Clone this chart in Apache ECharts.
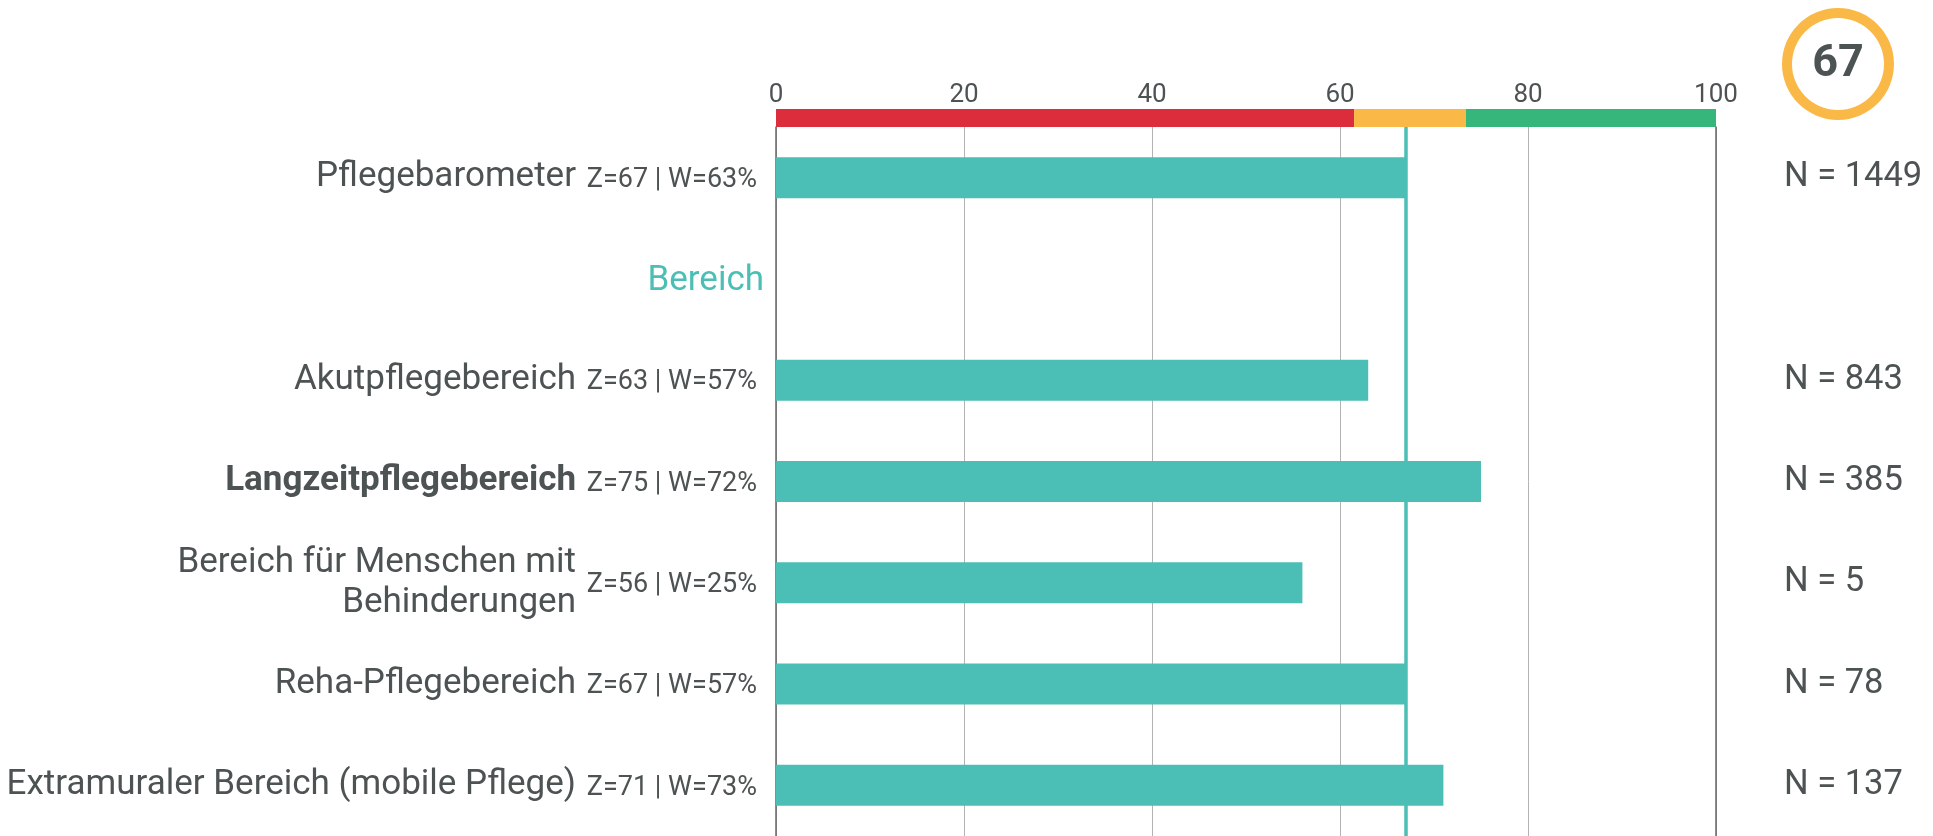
<!DOCTYPE html>
<html>
<head>
<meta charset="utf-8">
<script src="https://cdn.jsdelivr.net/npm/echarts@6/dist/echarts.min.js"></script>
<style>html,body{margin:0;padding:0;background:#fff}#c{width:1933px;height:836px}</style>
</head>
<body>
<div id="c"></div>
<script>
const categories = ['Pflegebarometer', 'Bereich', 'Akutpflegebereich', 'Langzeitpflegebereich', 'Bereich für Menschen mit\nBehinderungen', 'Reha-Pflegebereich', 'Extramuraler Bereich (mobile Pflege)'];
const values = [67, null, 63, 75, 56, 67, 71];
const zLabels = ['Z=67 | W=63%', '', 'Z=63 | W=57%', 'Z=75 | W=72%', 'Z=56 | W=25%', 'Z=67 | W=57%', 'Z=71 | W=73%'];
const nLabels = ['N = 1449', '', 'N = 843', 'N = 385', 'N = 5', 'N = 78', 'N = 137'];
const sectionIndex = 1;
const boldIndex = 3;
const referenceValue = 67;
const overallScore = 67;
const bandNames = ['rot', 'gelb', 'grün'];
const bandSizes = [61.5, 11.9, 26.6];
const xTicks = [0, 20, 40, 60, 80, 100];

const TEXT = '#4d5253', TEAL = '#4bbfb5';
const bandColors = ['#dc2d3c', '#fab946', '#36b67b'];
const FONT = 'Roboto';

const chart = echarts.init(document.getElementById('c'), null, {renderer: 'canvas'});
const GL = 776, GR = 217;

const option = {
  animation: false,
  textStyle: {fontFamily: FONT},
  grid: [
    {left: GL, right: GR, top: 127, height: 714},
    {left: GL, right: GR, top: 109, height: 18}
  ],
  xAxis: [
    {gridIndex: 0, type: 'value', min: 0, max: 100, interval: 20,
     axisLine: {show: false}, axisTick: {show: false}, axisLabel: {show: false},
     splitLine: {show: true, lineStyle: {color: '#b3b3b3', width: 1}}},
    {gridIndex: 1, type: 'value', min: 0, max: 100, interval: 20, position: 'top',
     axisLine: {show: false}, axisTick: {show: false}, splitLine: {show: false},
     axisLabel: {show: true, margin: 1, fontSize: 26, color: TEXT, fontFamily: FONT,
       formatter: v => xTicks.includes(v) ? String(v) : ''}}
  ],
  yAxis: [
    {gridIndex: 0, type: 'category', inverse: true, position: 'left', data: categories,
     axisLine: {show: true, lineStyle: {color: '#666', width: 1.5}}, axisTick: {show: false},
     splitLine: {show: false},
     axisLabel: {margin: 12, interval: 0, fontFamily: FONT, padding: [5, 0, 0, 0],
       formatter: (v, i) => i === sectionIndex ? '{sec|' + categories[i] + '}' : (zLabels[i] ? '{z|' + zLabels[i] + '}' : ''),
       rich: {z: {fontSize: 27, color: TEXT, fontFamily: FONT, padding: [0, 7, 0, 0]},
              sec: {fontSize: 35, color: TEAL, fontFamily: FONT}}}},
    {gridIndex: 0, type: 'category', inverse: true, position: 'left',
     data: categories.map((c, i) => i === boldIndex ? {value: c, textStyle: {fontWeight: 'bold'}} : c),
     axisLine: {show: false}, axisTick: {show: false}, splitLine: {show: false},
     axisLabel: {margin: 200, interval: 0, fontSize: 35, lineHeight: 40, color: TEXT, fontFamily: FONT,
       padding: [6, 0, 0, 0], formatter: (v, i) => i === sectionIndex ? '' : v}},
    {gridIndex: 0, type: 'category', inverse: true, position: 'right', data: categories,
     axisLine: {show: true, lineStyle: {color: '#666', width: 1.5}}, axisTick: {show: false},
     splitLine: {show: false},
     axisLabel: {margin: 68, interval: 0, fontSize: 34.5, color: TEXT, fontFamily: FONT, align: 'left',
       padding: [5, 0, 0, 0], formatter: (v, i) => nLabels[i]}},
    {gridIndex: 1, type: 'category', data: ['band'], show: false}
  ],
  series: [
    {type: 'bar', xAxisIndex: 0, yAxisIndex: 0, data: values, barWidth: 41,
     itemStyle: {color: TEAL},
     markLine: {silent: true, symbol: ['none', 'none'], label: {show: false},
       lineStyle: {color: TEAL, width: 3.5, type: 'solid'},
       data: [{xAxis: referenceValue}]}},
    ...bandSizes.map((s, i) => ({
      type: 'bar', name: bandNames[i], xAxisIndex: 1, yAxisIndex: 3, stack: 'band',
      data: [s], barWidth: '100%', itemStyle: {color: bandColors[i]}, silent: true
    }))
  ],
  graphic: [
    {type: 'ring', shape: {cx: 1838, cy: 64, r: 56, r0: 46}, style: {fill: '#fab946'}},
    {type: 'text', x: 1838, y: 65, style: {text: String(overallScore), fontSize: 45, fontWeight: 'bold',
      fill: TEXT, fontFamily: FONT, align: 'center', verticalAlign: 'middle'}}
  ]
};
chart.setOption(option);
</script>
</body>
</html>
